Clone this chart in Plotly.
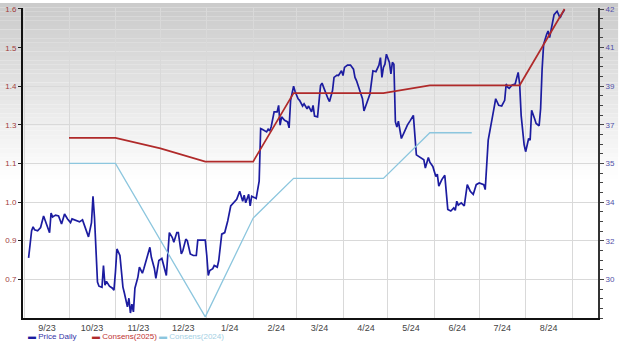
import plotly.graph_objects as go

# ---------------- data ----------------
price_dates = [
    "2023-09-04", "2023-09-06", "2023-09-07", "2023-09-08", "2023-09-10", "2023-09-12", "2023-09-14",
    "2023-09-17", "2023-09-18", "2023-09-19", "2023-09-20", "2023-09-22", "2023-09-24", "2023-09-26",
    "2023-09-28", "2023-09-30", "2023-10-02", "2023-10-03", "2023-10-05", "2023-10-08", "2023-10-10",
    "2023-10-11", "2023-10-14", "2023-10-16", "2023-10-17", "2023-10-18", "2023-10-20", "2023-10-21",
    "2023-10-23", "2023-10-24", "2023-10-25", "2023-10-26", "2023-10-28", "2023-10-30", "2023-10-31",
    "2023-11-01", "2023-11-02", "2023-11-04", "2023-11-05", "2023-11-06", "2023-11-07", "2023-11-09",
    "2023-11-10", "2023-11-11", "2023-11-12", "2023-11-13", "2023-11-14", "2023-11-16", "2023-11-17",
    "2023-11-19", "2023-11-20", "2023-11-22", "2023-11-24", "2023-11-25", "2023-11-27", "2023-11-28",
    "2023-11-30", "2023-12-02", "2023-12-03", "2023-12-05", "2023-12-07", "2023-12-09", "2023-12-10",
    "2023-12-12", "2023-12-13", "2023-12-15", "2023-12-16", "2023-12-18", "2023-12-19", "2023-12-21",
    "2023-12-23", "2023-12-25", "2023-12-26", "2023-12-29", "2023-12-31", "2024-01-01", "2024-01-02",
    "2024-01-03", "2024-01-05", "2024-01-06", "2024-01-08", "2024-01-09", "2024-01-11", "2024-01-13",
    "2024-01-15", "2024-01-17", "2024-01-19", "2024-01-21", "2024-01-23", "2024-01-25", "2024-01-26",
    "2024-01-27", "2024-01-29", "2024-01-30", "2024-01-31", "2024-02-02", "2024-02-03", "2024-02-05",
    "2024-02-06", "2024-02-07", "2024-02-10", "2024-02-11", "2024-02-12", "2024-02-13", "2024-02-15",
    "2024-02-17", "2024-02-18", "2024-02-19", "2024-02-20", "2024-02-22", "2024-02-24", "2024-02-25",
    "2024-02-26", "2024-02-28", "2024-02-29", "2024-03-02", "2024-03-03", "2024-03-05", "2024-03-06",
    "2024-03-08", "2024-03-09", "2024-03-11", "2024-03-12", "2024-03-13", "2024-03-15", "2024-03-17",
    "2024-03-18", "2024-03-19", "2024-03-21", "2024-03-22", "2024-03-23", "2024-03-25", "2024-03-26",
    "2024-03-28", "2024-03-29", "2024-03-31", "2024-04-01", "2024-04-02", "2024-04-04", "2024-04-06",
    "2024-04-08", "2024-04-09", "2024-04-10", "2024-04-12", "2024-04-14", "2024-04-15", "2024-04-17",
    "2024-04-19", "2024-04-21", "2024-04-23", "2024-04-25", "2024-04-26", "2024-04-27", "2024-04-28",
    "2024-04-29", "2024-04-30", "2024-05-02", "2024-05-03", "2024-05-04", "2024-05-05", "2024-05-06",
    "2024-05-07", "2024-05-08", "2024-05-10", "2024-05-12", "2024-05-14", "2024-05-16", "2024-05-18",
    "2024-05-20", "2024-05-23", "2024-05-25", "2024-05-26", "2024-05-28", "2024-05-29", "2024-05-31",
    "2024-06-02", "2024-06-03", "2024-06-04", "2024-06-06", "2024-06-08", "2024-06-09", "2024-06-10",
    "2024-06-12", "2024-06-14", "2024-06-15", "2024-06-16", "2024-06-17", "2024-06-19", "2024-06-21",
    "2024-06-23", "2024-06-25", "2024-06-27", "2024-06-29", "2024-07-01", "2024-07-04", "2024-07-05",
    "2024-07-07", "2024-07-09", "2024-07-10", "2024-07-11", "2024-07-12", "2024-07-14", "2024-07-16",
    "2024-07-18", "2024-07-19", "2024-07-20", "2024-07-21", "2024-07-23", "2024-07-25", "2024-07-27",
    "2024-07-28", "2024-07-29", "2024-07-30", "2024-07-31", "2024-08-01", "2024-08-03", "2024-08-04",
    "2024-08-05", "2024-08-07", "2024-08-08", "2024-08-10", "2024-08-11", "2024-08-12", "2024-08-13",
    "2024-08-15", "2024-08-16", "2024-08-17", "2024-08-19", "2024-08-20", "2024-08-22", "2024-08-24",
    "2024-08-25", "2024-08-27",
]
price_values = [
    31.25, 32.44, 32.61, 32.48, 32.44, 32.58, 33.09,
    32.58, 32.35, 33.22, 33.05, 33.13, 33.09, 32.74,
    33.18, 32.96, 32.80, 32.96, 32.92, 32.83, 32.92,
    32.74, 32.17, 32.80, 33.96, 33.02, 30.18, 30.00,
    29.95, 30.91, 30.04, 30.21, 30.00, 29.91, 29.82,
    30.62, 31.64, 31.35, 30.69, 29.96, 29.69, 29.09,
    29.47, 28.82, 29.21, 28.87, 29.91, 30.40, 30.84,
    30.57, 30.78, 31.27, 31.71, 31.27, 30.78, 30.34,
    31.13, 31.22, 30.98, 30.47, 32.36, 32.14, 31.93,
    32.36, 32.36, 31.42, 31.56, 32.07, 32.00, 31.42,
    31.35, 31.35, 32.03, 32.03, 32.03, 31.35, 30.47,
    30.69, 30.77, 30.91, 30.84, 31.13, 32.29, 32.36,
    32.87, 33.53, 33.67, 33.82, 34.18, 33.74, 34.01,
    33.67, 34.04, 33.53, 33.96, 33.89, 33.86, 34.62,
    36.94, 36.91, 36.79, 36.91, 36.83, 37.01, 37.67,
    37.67, 37.96, 37.09, 37.45, 37.30, 37.23, 36.97,
    38.18, 38.80, 38.57, 38.25, 38.18, 37.93, 38.03,
    37.81, 37.93, 37.67, 37.96, 37.49, 37.45, 38.83,
    38.94, 38.76, 38.39, 38.25, 38.13, 38.61, 39.19,
    39.29, 39.27, 39.48, 39.27, 39.63, 39.73, 39.73,
    39.55, 39.19, 39.05, 38.61, 38.25, 37.71, 38.10,
    38.46, 39.48, 39.44, 39.73, 40.06, 39.19, 39.63,
    39.77, 40.21, 39.85, 39.34, 39.85, 39.77, 37.23,
    37.01, 37.26, 36.50, 36.79, 37.09, 37.30, 37.52,
    35.78, 35.66, 35.56, 35.20, 35.66, 35.46, 35.27,
    34.83, 34.93, 34.40, 34.69, 34.88, 34.25, 33.38,
    33.31, 33.45, 33.34, 33.74, 33.57, 33.67, 33.53,
    34.47, 34.18, 34.04, 34.47, 34.54, 34.47, 34.25,
    36.43, 37.30, 37.52, 37.88, 38.25, 37.96, 37.93,
    38.18, 38.90, 38.76, 38.71, 38.86, 38.90, 39.41,
    38.90, 37.52, 36.65, 36.22, 35.92, 36.50, 36.43,
    37.74, 37.37, 37.16, 37.06, 37.81, 39.55, 40.64,
    41.08, 41.23, 40.94, 41.59, 41.95, 42.10, 41.81,
    41.95, 42.17,
]

cons2025_dates = ["2023-10-01", "2023-11-01", "2023-12-01", "2023-12-31", "2024-02-01",
                  "2024-02-28", "2024-04-28", "2024-05-29", "2024-07-28", "2024-08-27"]
cons2025_values = [1.211, 1.211, 1.176, 1.132, 1.132, 1.360, 1.360, 1.386, 1.386, 1.640]

cons2024_dates = ["2023-10-01", "2023-11-01", "2023-12-31", "2024-02-01", "2024-02-28",
                  "2024-04-28", "2024-05-29", "2024-06-26"]
cons2024_values = [1.126, 1.126, 0.615, 0.944, 1.076, 1.076, 1.228, 1.228]

month_start_dates = ["2023-09-01", "2023-10-01", "2023-11-01", "2023-12-01", "2024-01-01", "2024-02-01",
                     "2024-03-01", "2024-04-01", "2024-05-01", "2024-06-01", "2024-07-01", "2024-08-01",
                     "2024-09-01"]
month_labels = ["9/23", "10/23", "11/23", "12/23", "1/24", "2/24",
                "3/24", "4/24", "5/24", "6/24", "7/24", "8/24", ""]

eps_tick_vals = [1.640, 1.511, 1.383, 1.254, 1.126, 0.997, 0.869, 0.740]
eps_tick_labels = ["1.6", "1.5", "1.4", "1.3", "1.1", "1.0", "0.9", "0.7"]
price_tick_vals = [42.2, 40.5, 38.8, 37.1, 35.4, 33.7, 32.0, 30.3]
price_tick_labels = ["42", "41", "39", "37", "35", "34", "32", "30"]

series_names = ["Price Daily", "Consens(2025)", "Consens(2024)"]

# ---------------- styles ----------------
C_PRICE = "#1c1ca0"
C_2025 = "#b02a2a"
C_2024 = "#8cc6de"
TXT_COLORS = ["#3434a8", "#c03434", "#a4d0e4"]
FONT = "Liberation Sans"

fig = go.Figure()
fig.add_trace(go.Scatter(
    x=price_dates, y=price_values, mode="lines", yaxis="y", name=series_names[0],
    line=dict(color=C_PRICE, width=1.7), hoverinfo="skip"))
fig.add_trace(go.Scatter(
    x=cons2025_dates, y=cons2025_values, mode="lines", yaxis="y2", name=series_names[1],
    line=dict(color=C_2025, width=1.7), hoverinfo="skip"))
fig.add_trace(go.Scatter(
    x=cons2024_dates, y=cons2024_values, mode="lines", yaxis="y2", name=series_names[2],
    line=dict(color=C_2024, width=1.3), hoverinfo="skip"))

plot_top, plot_bot = 5.0, 318.0
plot_left, plot_right = 23.0, 602.0
h = plot_bot - plot_top
w = plot_right - plot_left

# background gradient (grey at top fading to white)
shapes = []
n = 40
fade_px = 178.0
for i in range(n):
    y0p = fade_px * i / n
    y1p = fade_px * (i + 1) / n
    t = (i + 0.5) / n
    g = int(round(202 + (255 - 202) * t))
    shapes.append(dict(
        type="rect", xref="paper", yref="paper", layer="below",
        x0=-0.045, x1=1.035,
        y0=(plot_bot - y1p) / h, y1=(plot_bot - y0p) / h,
        fillcolor=f"rgb({g},{g},{g})", line=dict(width=0)))

# compact legend drawn as text (short dash + coloured name)
legend_x_px = [26, 90, 158]
legend_y = (plot_bot - 337) / h
annotations = []
for name, lc, tc, xp in zip(series_names, [C_PRICE, C_2025, C_2024], TXT_COLORS, legend_x_px):
    annotations.append(dict(
        xref="paper", yref="paper", x=(xp - plot_left) / w, y=legend_y,
        xanchor="left", yanchor="middle", showarrow=False,
        text=f"<span style='color:{lc}'>▬</span> <span style='color:{tc}'>{name}</span>",
        font=dict(size=8, family=FONT)))

fig.update_layout(
    width=620, height=343,
    margin=dict(l=int(plot_left), r=int(620 - plot_right), t=int(plot_top), b=int(343 - plot_bot), pad=0),
    paper_bgcolor="white",
    plot_bgcolor="rgba(0,0,0,0)",
    font=dict(family=FONT, size=9, color="#333333"),
    shapes=shapes,
    annotations=annotations,
    showlegend=False,
    xaxis=dict(
        type="date", range=["2023-08-31 06:00", "2024-09-18 08:00"],
        tickmode="array", tickvals=month_start_dates, ticktext=month_labels,
        ticklabelshift=23, ticks="",
        showgrid=True, gridcolor="#d9d9d9", gridwidth=1, zeroline=False,
        showline=True, linecolor="#111111", linewidth=2,
        tickfont=dict(size=9, color="#444444", family=FONT),
    ),
    yaxis=dict(  # price axis (right)
        side="right", range=[28.6, 42.244],
        tickmode="array", tickvals=price_tick_vals, ticktext=price_tick_labels,
        ticks="outside", ticklen=4, tickcolor="#444444", tickwidth=1,
        showgrid=False, zeroline=False,
        showline=True, linecolor="#333333", linewidth=2,
        tickfont=dict(size=8, color="#5050a8", family=FONT),
        minor=dict(tickmode="linear", tick0=30.3, dtick=0.425, ticks="outside",
                   ticklen=3, tickcolor="#444444", showgrid=False),
    ),
    yaxis2=dict(  # EPS axis (left)
        side="left", overlaying="y", range=[0.6113, 1.6433],
        tickmode="array", tickvals=eps_tick_vals, ticktext=eps_tick_labels,
        ticks="outside", ticklen=3, tickcolor="#222222",
        showgrid=True, gridcolor="#d9d9d9", gridwidth=1, zeroline=False,
        showline=True, linecolor="#111111", linewidth=2,
        tickfont=dict(size=8, color="#a03c3c", family=FONT),
    ),
)

fig.write_html("out.html")
